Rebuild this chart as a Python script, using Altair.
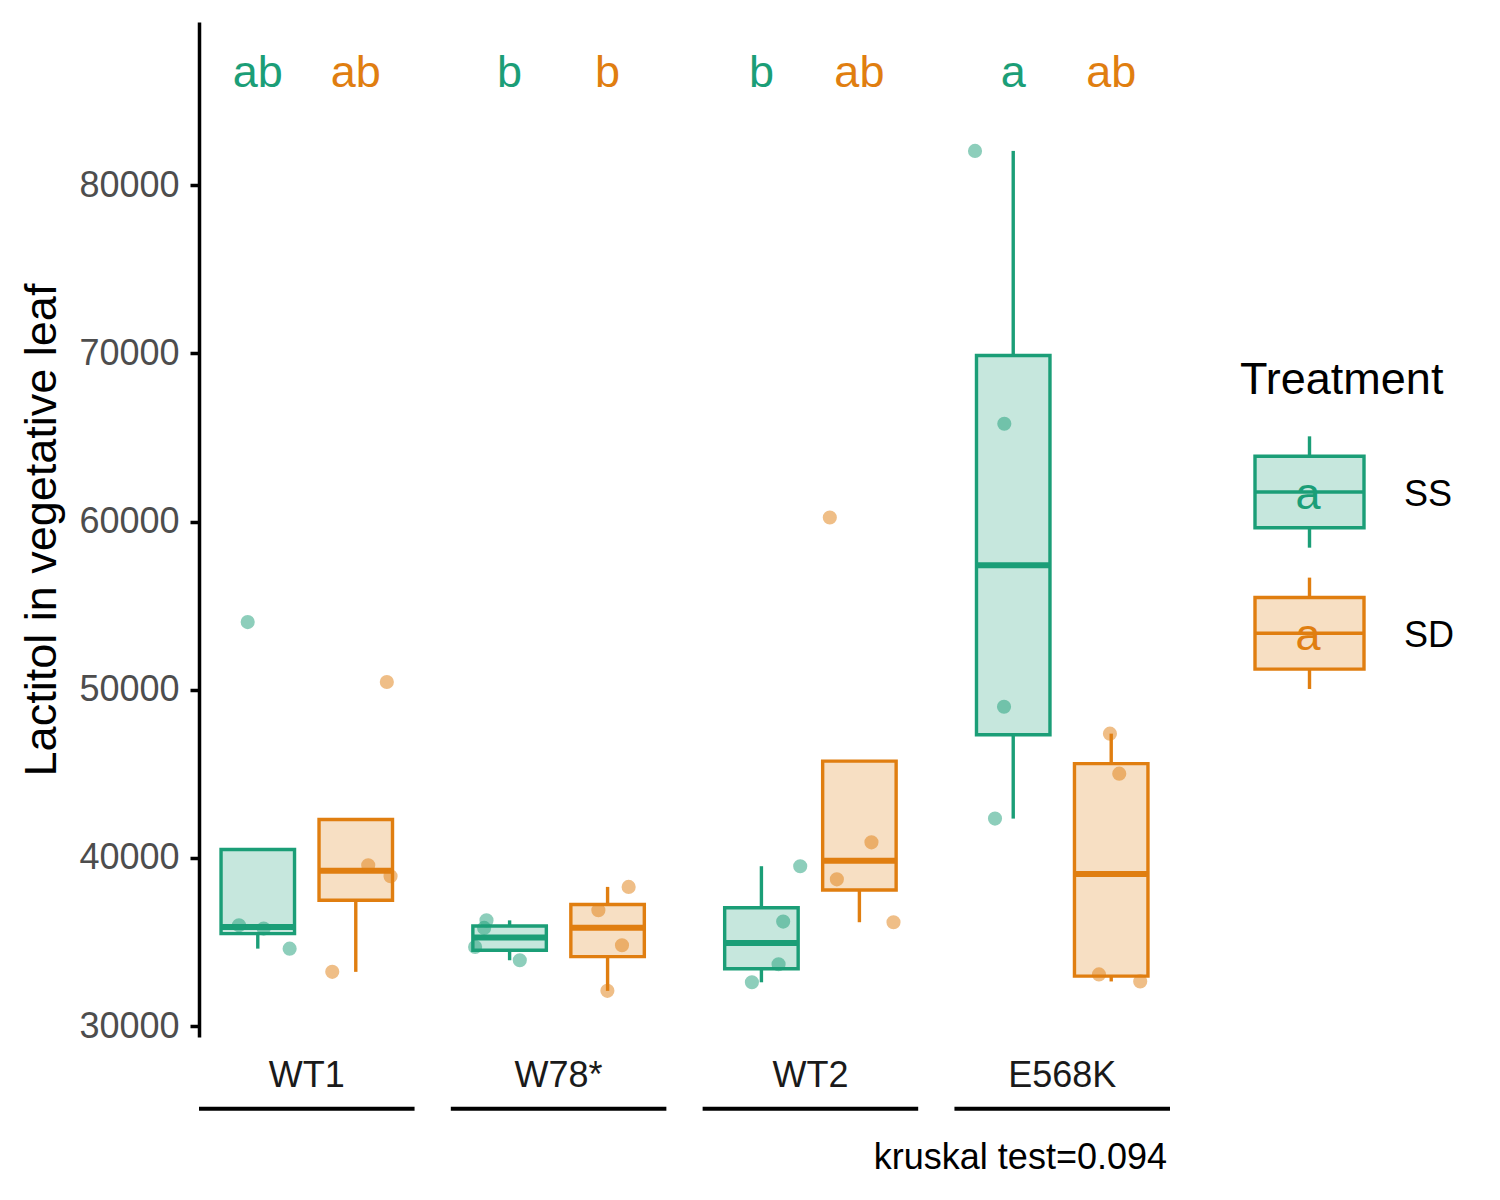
import altair as alt
import numpy as np
import pandas as pd

# ---------------- data ----------------
genotypes = ["WT1", "W78*", "WT2", "E568K"]
treatments = ["SS", "SD"]
colors = ["#1B9E77", "#E07E10"]

wt1_ss = [54020, 36000, 35800, 34610]
wt1_sd = [50460, 39560, 38910, 33230]
w78_ss = [36290, 35840, 34710, 33920]
w78_sd = [38280, 36890, 34810, 32100]
wt2_ss = [36220, 39510, 33680, 32610]
wt2_sd = [60240, 40930, 38730, 36180]
e568k_ss = [82030, 65810, 48990, 42340]
e568k_sd = [47390, 45010, 33080, 32660]

# horizontal jitter of each point (in category units)
jit_wt1_ss = [-0.103, -0.192, 0.060, 0.325]
jit_wt1_sd = [0.317, 0.127, 0.355, -0.240]
jit_w78_ss = [-0.236, -0.260, -0.352, 0.104]
jit_w78_sd = [0.215, -0.094, 0.147, -0.002]
jit_wt2_ss = [0.222, 0.396, 0.175, -0.097]
jit_wt2_sd = [-0.302, 0.123, -0.230, 0.348]
jit_e568k_ss = [-0.390, -0.091, -0.094, -0.186]
jit_e568k_sd = [-0.013, 0.082, -0.125, 0.296]

letters_ss = ["ab", "b", "b", "a"]
letters_sd = ["ab", "b", "ab", "ab"]
letter_y = 86950
caption = "kruskal test=0.094"
y_ticks = [30000, 40000, 50000, 60000, 70000, 80000]

# ---------------- table building ----------------
PANEL = 2.2     # width of one genotype panel in category units
GAP = 0.37      # gap between panels in category units
groups = {
    ("WT1", "SS"): (wt1_ss, jit_wt1_ss), ("WT1", "SD"): (wt1_sd, jit_wt1_sd),
    ("W78*", "SS"): (w78_ss, jit_w78_ss), ("W78*", "SD"): (w78_sd, jit_w78_sd),
    ("WT2", "SS"): (wt2_ss, jit_wt2_ss), ("WT2", "SD"): (wt2_sd, jit_wt2_sd),
    ("E568K", "SS"): (e568k_ss, jit_e568k_ss), ("E568K", "SD"): (e568k_sd, jit_e568k_sd),
}
rows = []
for gi, g in enumerate(genotypes):
    start = gi * (PANEL + GAP)
    for ti, t in enumerate(treatments):
        vals, jit = groups[(g, t)]
        pos = start + 0.6 + ti
        for v, j in zip(vals, jit):
            rows.append(dict(kind="pt", Genotype=g, Treatment=t, value=v, jx=pos + j))
        a = np.array(vals, dtype=float)
        q1, med, q3 = np.percentile(a, [25, 50, 75])
        iqr = q3 - q1
        inside = a[(a >= q1 - 1.5 * iqr) & (a <= q3 + 1.5 * iqr)]
        lower = min(q1, inside.min())
        upper = max(q3, inside.max())
        rows.append(dict(kind="box", Genotype=g, Treatment=t, pos=pos,
                         xl=pos - 0.375, xr=pos + 0.375,
                         q1=q1, median=med, q3=q3, lower=lower, upper=upper))
        lab = letters_ss[gi] if t == "SS" else letters_sd[gi]
        rows.append(dict(kind="lab", Genotype=g, Treatment=t, pos=pos, ly=letter_y, letter=lab))
    rows.append(dict(kind="grp", Genotype=g, gs=start, ge=start + PANEL, gc=start + PANEL / 2))
x_end = (len(genotypes) - 1) * (PANEL + GAP) + PANEL
rows.append(dict(kind="cap", Genotype=genotypes[-1], cap=caption, ge=x_end))
df = pd.DataFrame(rows)

all_vals = wt1_ss + wt1_sd + w78_ss + w78_sd + wt2_ss + wt2_sd + e568k_ss + e568k_sd
lo, hi = min(all_vals), letter_y
span = hi - lo
y_dom = [lo - 0.05 * span, hi + 0.05 * span]

FONT = "Liberation Sans"
W, H = 971, 1015

xs = alt.Scale(domain=[0, x_end], nice=False, zero=False)
ys = alt.Scale(domain=y_dom, nice=False, zero=False)
cs = alt.Scale(domain=treatments, range=colors)
yaxis = alt.Axis(title="Lactitol in vegetative leaf", values=y_ticks, format="d", grid=False,
                 domainColor="black", domainWidth=3.5, tickColor="black", tickWidth=3.5,
                 tickSize=9, labelFontSize=36, labelColor="#4D4D4D", labelPadding=11,
                 labelFont=FONT, titleFont=FONT, titleFontSize=45, titleColor="black",
                 titleFontWeight="normal", titlePadding=14)


def Y(f):
    return alt.Y(f, scale=ys, axis=yaxis)


def X(f):
    return alt.X(f, scale=xs, axis=None)


col = alt.Color("Treatment:N", scale=cs, legend=None)
stk = alt.Stroke("Treatment:N", scale=cs, legend=None)
fil = alt.Fill("Treatment:N", scale=cs, legend=None)

base = alt.Chart(df)
box_src = base.transform_filter(alt.datum.kind == "box")
whisk_up = box_src.mark_rule(strokeWidth=3.4).encode(x=X("pos:Q"), y=Y("q3:Q"), y2="upper:Q", stroke=stk)
whisk_lo = box_src.mark_rule(strokeWidth=3.4).encode(x=X("pos:Q"), y=Y("lower:Q"), y2="q1:Q", stroke=stk)
boxes = box_src.mark_rect(fillOpacity=0.25, strokeWidth=3.4).encode(
    x=X("xl:Q"), x2="xr:Q", y=Y("q1:Q"), y2="q3:Q", fill=fil, stroke=stk)
medians = box_src.mark_rule(strokeWidth=6).encode(
    x=X("xl:Q"), x2="xr:Q", y=Y("median:Q"), stroke=stk)
points = base.transform_filter(alt.datum.kind == "pt").mark_circle(size=200, opacity=0.5).encode(
    x=X("jx:Q"), y=Y("value:Q"), color=col)
letters = base.transform_filter(alt.datum.kind == "lab").mark_text(
    font=FONT, fontSize=45, baseline="alphabetic", dy=18.6).encode(
    x=X("pos:Q"), y=Y("ly:Q"), text="letter:N", color=col)
grp_src = base.transform_filter(alt.datum.kind == "grp")
grp_lab = grp_src.mark_text(font=FONT, fontSize=36, color="#1A1A1A", baseline="alphabetic").encode(
    x=X("gc:Q"), y=alt.value(1065.3), text="Genotype:N")
grp_line = grp_src.mark_rule(strokeWidth=4, color="black").encode(
    x=X("gs:Q"), x2="ge:Q", y=alt.value(1086.8))
cap = base.transform_filter(alt.datum.kind == "cap").mark_text(
    font=FONT, fontSize=36, color="black", align="right", baseline="alphabetic", dx=-3).encode(
    x=X("ge:Q"), y=alt.value(1147), text="cap:N")

main = alt.layer(whisk_up, whisk_lo, boxes, medians, points, letters, grp_lab, grp_line, cap)

# ---------------- legend (drawn to the right of the plot) ----------------
leg = pd.DataFrame({"Treatment": treatments, "k": [0, 1], "glyph": ["a", "a"]})
leg["bt"] = leg["k"] - 0.2535
leg["bb"] = leg["k"] + 0.2535
leg["wt"] = leg["k"] - 0.394
leg["wb"] = leg["k"] + 0.394
ks = alt.Scale(domain=[0, 1], range=[470, 611.3])
lbase = alt.Chart(leg)
KY = lambda f: alt.Y(f, scale=ks, axis=None)
LX = W + 60   # left edge of legend block
l_w1 = lbase.mark_rule(strokeWidth=3.4).encode(x=alt.value(LX + 79.5), y=KY("wt:Q"), y2="bt:Q", stroke=stk)
l_w2 = lbase.mark_rule(strokeWidth=3.4).encode(x=alt.value(LX + 79.5), y=KY("bb:Q"), y2="wb:Q", stroke=stk)
l_box = lbase.mark_rect(fillOpacity=0.25, strokeWidth=3.4).encode(
    x=alt.value(LX + 25), x2=alt.value(LX + 134), y=KY("bt:Q"), y2="bb:Q", fill=fil, stroke=stk)
l_med = lbase.mark_rule(strokeWidth=3.4).encode(
    x=alt.value(LX + 25), x2=alt.value(LX + 134), y=KY("k:Q"), stroke=stk)
l_a = lbase.mark_text(font=FONT, fontSize=45, baseline="alphabetic", dy=17).encode(
    x=alt.value(LX + 78), y=KY("k:Q"), text="glyph:N", color=col)
l_lab = lbase.mark_text(font=FONT, fontSize=36, baseline="alphabetic", dy=13.5, align="left",
                        color="black").encode(x=alt.value(LX + 174), y=KY("k:Q"), text="Treatment:N")
l_title = lbase.transform_filter(alt.datum.k == 0).mark_text(
    font=FONT, fontSize=45, baseline="alphabetic", align="left", color="black").encode(
    x=alt.value(LX + 10), y=alt.value(372.3), text=alt.value("Treatment"))
legend = alt.layer(l_w1, l_w2, l_box, l_med, l_a, l_lab, l_title)

chart = alt.layer(main, legend).resolve_scale(y="independent").properties(
    width=W, height=H,
    padding={"left": 11, "top": 14, "right": 5, "bottom": 5}
).configure(font=FONT).configure_view(stroke="transparent", strokeWidth=0)

chart.save("out.html", embed_options={"renderer": "svg", "actions": False})
